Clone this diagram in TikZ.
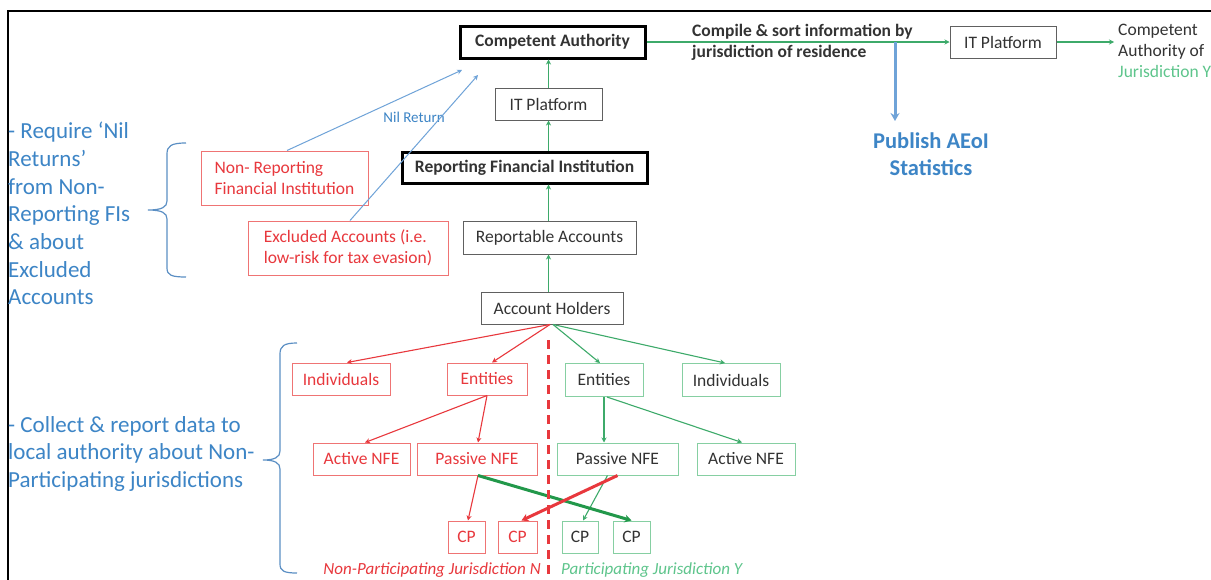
\documentclass[tikz,border=0pt]{standalone}
\usepackage{fontspec}
\setmainfont{Carlito}
\usetikzlibrary{arrows.meta}
\definecolor{cred}{HTML}{E8383D}
\definecolor{credbox}{HTML}{EF7474}
\definecolor{cgreen}{HTML}{3DAA6A}
\definecolor{cgreenbox}{HTML}{86CFA2}
\definecolor{cgreendk}{HTML}{22984A}
\definecolor{cgreenl}{HTML}{5EC58C}
\definecolor{cblue}{HTML}{3D85C6}
\definecolor{cbluel}{HTML}{6FA3D8}
\definecolor{cbrace}{HTML}{5B8FC4}
\definecolor{ctext}{HTML}{333333}
\definecolor{cgray}{HTML}{606060}
\begin{document}
\begin{tikzpicture}[x=1pt,y=-1pt,
  every node/.style={inner sep=0pt, font=\fontsize{17.5}{21}\selectfont},
  box/.style={draw, rectangle, align=center},
  blkbox/.style={box, draw=cgray, line width=1pt, text=ctext},
  thickbox/.style={box, draw=black, line width=3pt, text=ctext, font=\fontsize{17.5}{21}\selectfont\bfseries},
  redbox/.style={box, draw=credbox, line width=1pt, text=cred},
  greenbox/.style={box, draw=cgreenbox, line width=1pt, text=ctext},
  garrow/.style={draw=cgreen, line width=1.1pt, -{Stealth[length=5pt,width=5pt]}},
  rarrow/.style={draw=cred, line width=1.1pt, -{Stealth[length=5pt,width=5pt]}},
  barrow/.style={draw=cbluel, line width=1pt, -{Stealth[length=5pt,width=5pt]}},
  gthick/.style={draw=cgreendk, line width=3pt, -{Stealth[length=7pt,width=8pt]}},
  rthick/.style={draw=cred, line width=3pt, -{Stealth[length=7pt,width=8pt]}},
  bthick/.style={draw=cbluel, line width=3pt, -{Stealth[length=8pt,width=9pt]}},
  bracestyle/.style={draw=cbrace, line width=1.2pt},
  bluetext/.style={text=cblue, align=left, font=\fontsize{23}{27.7}\selectfont},
]
\useasboundingbox (0,0) rectangle (1211,579);
\fill[white] (0,0) rectangle (1211,579);
% frame
\draw[line width=2.5pt] (8,590) -- (8,11) -- (1220,11);

% main column
\node[thickbox, minimum width=185, minimum height=32] (ca) at (552.5,42) {Competent Authority};
\node[blkbox, minimum width=107, minimum height=32] (itc) at (548.5,104) {IT Platform};
\node[thickbox, minimum width=245, minimum height=31] (rfi) at (524.5,167.5) {Reporting Financial Institution};
\node[blkbox, minimum width=173, minimum height=33] (ra) at (549.5,237.5) {Reportable Accounts};
\node[blkbox, minimum width=142, minimum height=32] (ah) at (552,308) {Account Holders};

\node[redbox, align=left, minimum width=167, minimum height=54] (nrfi) at (284.5,178) {Non- Reporting\\Financial Institution};
\node[redbox, align=left, minimum width=200, minimum height=54] (excl) at (348,248) {Excluded Accounts (i.e.\\low-risk for tax evasion)};

% right top
\node[blkbox, minimum width=106, minimum height=32] (itr) at (1003,42) {IT Platform};
\node[anchor=west, align=left, text=ctext] (cajy) at (1118,51) {Competent\\Authority of\\\textcolor{cgreenl}{Jurisdiction Y}};
\node[anchor=west, align=left, text=ctext, font=\fontsize{17.5}{21}\selectfont\bfseries] (cmp) at (692,42.5) {Compile \& sort information by\\jurisdiction of residence};
\node[align=center, text=cblue, font=\fontsize{22.5}{27}\selectfont\bfseries] (pub) at (931,154) {Publish AEoI\\Statistics};

% left texts
\node[bluetext, anchor=north west] (reqtxt) at (8,122) {- Require `Nil\\Returns'\\from Non-\\Reporting FIs\\\& about\\Excluded\\Accounts};
\node[bluetext, anchor=north west] (coltxt) at (8,416) {- Collect \& report data to\\local authority about Non-\\Participating jurisdictions};
\node[text=cblue, font=\fontsize{15}{18}\selectfont] (nil) at (414,117) {Nil Return};

% lower tree
\node[redbox, minimum width=98, minimum height=32] (indr) at (341,379) {Individuals};
\node[redbox, minimum width=80, minimum height=32] (entr) at (487,379) {Entities};
\node[greenbox, minimum width=78, minimum height=33] (entg) at (604,380) {Entities};
\node[greenbox, minimum width=98, minimum height=33] (indg) at (731,380) {Individuals};
\node[redbox, minimum width=97, minimum height=32] (actr) at (361.5,459) {Active NFE};
\node[redbox, minimum width=120, minimum height=32] (pasr) at (477,459) {Passive NFE};
\node[greenbox, minimum width=121, minimum height=32] (pasg) at (617.5,459) {Passive NFE};
\node[greenbox, minimum width=98, minimum height=32] (actg) at (746,459) {Active NFE};
\node[redbox, minimum width=37, minimum height=32] (cp1) at (466.5,537) {CP};
\node[redbox, minimum width=39, minimum height=32] (cp2) at (517.5,537) {CP};
\node[greenbox, minimum width=36, minimum height=32] (cp3) at (580,537) {CP};
\node[greenbox, minimum width=37, minimum height=32] (cp4) at (631.5,537) {CP};

\node[anchor=base east, text=cred, font=\fontsize{17}{21}\selectfont\itshape] (lbln) at (541,574.5) {Non-Participating Jurisdiction N};
\node[anchor=base west, text=cgreenl, font=\fontsize{17}{21}\selectfont\itshape] (lbly) at (561,574.5) {Participating Jurisdiction Y};

% coordinates
\coordinate (nil1) at (462,70);
\coordinate (nil2) at (478,75);
\coordinate (split) at (895,42);
\coordinate (pubend) at (895,121);
\coordinate (dtop) at (548,340);
\coordinate (dbot) at (548,590);

% vertical chain
\draw[garrow] (itc.north) -- (itc.north |- ca.south);
\draw[garrow] (rfi.north -| itc.south) -- (itc.south);
\draw[garrow] (ra.north -| itc.south) -- (rfi.south -| itc.south);
\draw[garrow] (ah.north -| itc.south) -- (ra.south -| itc.south);

% top right
\draw[garrow] (ca.east) -- (itr.west);
\draw[garrow] (itr.east) -- ([xshift=-4pt]itr.east -| cajy.west);
\draw[bthick] (split) -- (pubend);

% nil returns
\draw[barrow] ([xshift=2.5pt]nrfi.north) -- (nil1);
\draw[barrow] ([xshift=2pt]excl.north) -- (nil2);

% tree
\draw[rarrow] ([xshift=-2pt]ah.south) -- ([xshift=6pt]indr.north);
\draw[rarrow] ([xshift=-2pt]ah.south) -- ([xshift=5pt]entr.north);
\draw[garrow] ([xshift=1pt]ah.south) -- ([xshift=-4pt]entg.north);
\draw[garrow] ([xshift=1pt]ah.south) -- ([xshift=-6pt]indg.north);
\draw[rarrow] (entr.south) -- ([xshift=3.5pt]actr.north);
\draw[rarrow] (entr.south) -- ([xshift=1pt]pasr.north);
\draw[garrow] (entg.south) -- (entg.south |- pasg.north);
\draw[garrow] ([xshift=3pt]entg.south) -- ([xshift=-4pt]actg.north);
\draw[rarrow] ([xshift=1pt]pasr.south) -- ([xshift=1.5pt]cp1.north);
\draw[garrow] ([xshift=-10pt]pasg.south) -- ([xshift=3pt]cp3.north);
\draw[gthick] ([xshift=1pt]pasr.south) -- (cp4.north);
\draw[rthick] (pasg.south) -- ([xshift=4pt]cp2.north);

% dashed divider
\draw[draw=cred, line width=3pt, dash pattern=on 9pt off 6pt] (dtop) -- (dbot);

% braces
\draw[bracestyle] (186,143) .. controls (171,143) and (167,146) .. (167,154) -- (167,201)
  .. controls (167,207) and (162,210) .. (148,210)
  .. controls (162,210) and (167,213) .. (167,219) -- (167,268)
  .. controls (167,275) and (171,277) .. (186,277);
\draw[bracestyle] (297,343) .. controls (284,343) and (280,346) .. (280,354) -- (280,451)
  .. controls (280,457) and (275,460) .. (263,460)
  .. controls (275,460) and (280,463) .. (280,469) -- (280,564)
  .. controls (280,571) and (284,573) .. (297,573);
\end{tikzpicture}
\end{document}
